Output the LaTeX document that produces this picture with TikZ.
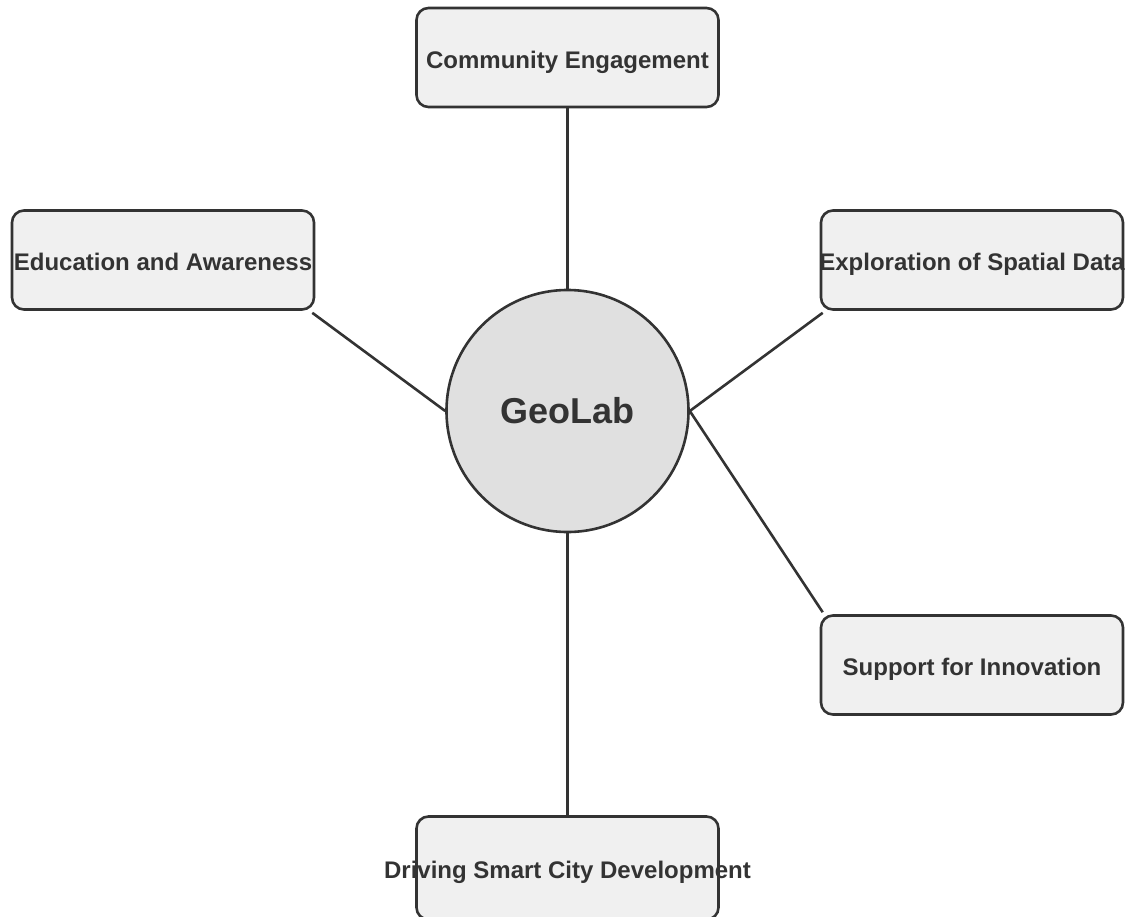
\documentclass[tikz,border=0pt]{standalone}
\usepackage{fontspec}
\setmainfont{Liberation Sans}
\newcommand{\toplabel}[1]{\makebox[0pt][c]{\smash{\raisebox{-10.5pt}{#1}}}}
\begin{document}
\begin{tikzpicture}[x=1pt,y=-1pt,
  topic/.style={draw=linec,fill=boxfill,line width=2.6pt,rounded corners=12pt,
    minimum width=302pt,minimum height=99pt,inner sep=0pt,text=txt,
    font=\fontsize{24}{28}\selectfont\bfseries},
  hub/.style={draw=linec,fill=hubfill,line width=2.6pt,circle,minimum size=242pt,
    inner sep=0pt,text=txt,font=\fontsize{36}{42}\selectfont\bfseries},
  link/.style={draw=linec,line width=2.6pt}]
\definecolor{linec}{HTML}{333333}
\definecolor{txt}{HTML}{333333}
\definecolor{boxfill}{HTML}{F0F0F0}
\definecolor{hubfill}{HTML}{E0E0E0}
\useasboundingbox (0,0) rectangle (1127,916);
\node[hub] (geo) at (567.5,411) {GeoLab};
\node[topic] (com) at (567.5,57.5) {\toplabel{Community Engagement}};
\node[topic] (edu) at (163,260) {\toplabel{Education and Awareness}};
\node[topic] (exp) at (972,260) {\toplabel{Exploration of Spatial Data}};
\node[topic] (sup) at (972,665) {\toplabel{Support for Innovation}};
\node[topic,minimum height=103pt] (drv) at (567.5,868) {\toplabel{Driving Smart City Development}};
\draw[link] (com.south) -- (geo.north);
\draw[link] (edu.south east) ++(-3,2) -- (geo.west);
\draw[link] (exp.south west) ++(3,2) -- (geo.east);
\draw[link] (sup.north west) ++(3,-2) -- (geo.east);
\draw[link] (geo.south) -- (drv.north);
\end{tikzpicture}
\end{document}
